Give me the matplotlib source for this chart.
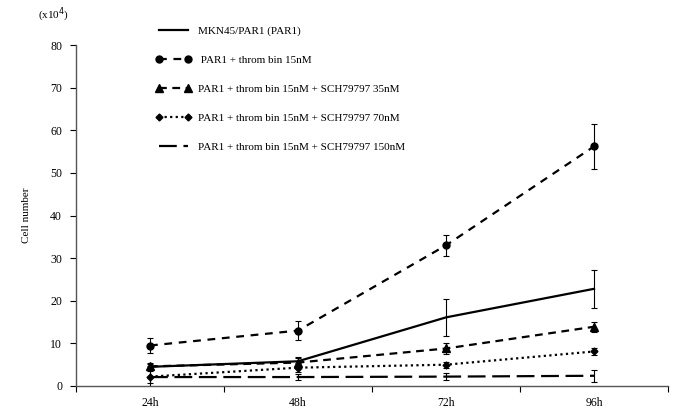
import numpy as np
import matplotlib.pyplot as plt
from matplotlib.lines import Line2D

plt.rcParams['font.family'] = ['Liberation Serif', 'DejaVu Serif']

times = ['24h', '48h', '72h', '96h']

par1 = [4.5, 5.8, 16.1, 22.8]
par1_err = [0.6, 1.0, 4.3, 4.4]

thr15 = [9.5, 13.0, 33.0, 56.2]
thr15_err = [1.8, 2.3, 2.4, 5.2]

sch35 = [4.6, 5.5, 8.8, 13.9]
sch35_err = [0.8, 1.0, 1.3, 1.2]

sch70 = [2.2, 4.3, 5.0, 8.1]
sch70_err = [2.5, 1.0, 0.7, 0.8]

sch150 = [2.1, 2.1, 2.2, 2.4]
sch150_err = [1.4, 0.8, 0.8, 1.4]

labels = ['MKN45/PAR1 (PAR1)',
          ' PAR1 + throm bin 15nM',
          'PAR1 + throm bin 15nM + SCH79797 35nM',
          'PAR1 + throm bin 15nM + SCH79797 70nM',
          'PAR1 + throm bin 15nM + SCH79797 150nM']

fig = plt.figure(figsize=(6.85, 4.18), dpi=100)
ax = fig.add_axes([76/685, 1-386/418, 592/685, 341/418])

x = np.arange(len(times)) + 0.5

series = [
    (par1, par1_err, '-', None, 4),
    (thr15, thr15_err, (0, (3.5, 3)), 'o', 5),
    (sch35, sch35_err, (0, (3.5, 2.5)), '^', 6),
    (sch70, sch70_err, (0, (1, 1.5)), 'D', 3.5),
    (sch150, sch150_err, (0, (8, 3)), None, 4),
]

handles = []
for (vals, errs, ls, mk, ms), lab in zip(series, labels):
    ax.errorbar(x, vals, yerr=errs, color='black', linestyle=ls, linewidth=1.6,
                marker=mk, markersize=ms, ecolor='black', elinewidth=0.8,
                capsize=2.5, capthick=0.8)
    handles.append(Line2D([], [], color='black', linestyle=ls, linewidth=1.6,
                          marker=mk, markersize=ms, label=lab))

ax.set_xlim(0, 4)
ax.set_ylim(0, 80)
ax.set_yticks(np.arange(0, 81, 10))
ax.set_xticks(np.arange(0, 5))
ax.set_xticklabels([])
ax.set_xticks(x, minor=True)
ax.set_xticklabels(times, minor=True)
ax.tick_params(axis='x', which='minor', length=0, pad=8, labelsize=8.5)
ax.tick_params(axis='x', which='major', length=4, direction='out', width=0.8)
ax.tick_params(axis='y', length=4, direction='out', width=0.8, labelsize=8.5, pad=6)

for s in ['top', 'right']:
    ax.spines[s].set_visible(False)
for s in ['left', 'bottom']:
    ax.spines[s].set_color('#555555')
    ax.spines[s].set_linewidth(1.0)

ax.set_ylabel('Cell number', fontsize=8, labelpad=14)
fig.text(38/685, 1-15/418, '(x10$^4$)', fontsize=8, va='center')

ax.legend(handles=handles, loc='upper left', bbox_to_anchor=(146/685, 1-16/418),
          bbox_transform=fig.transFigure, frameon=False, fontsize=8,
          labelspacing=1.72, handlelength=3.2, handletextpad=0.6, numpoints=2)

fig.savefig('out.png', dpi=100)
